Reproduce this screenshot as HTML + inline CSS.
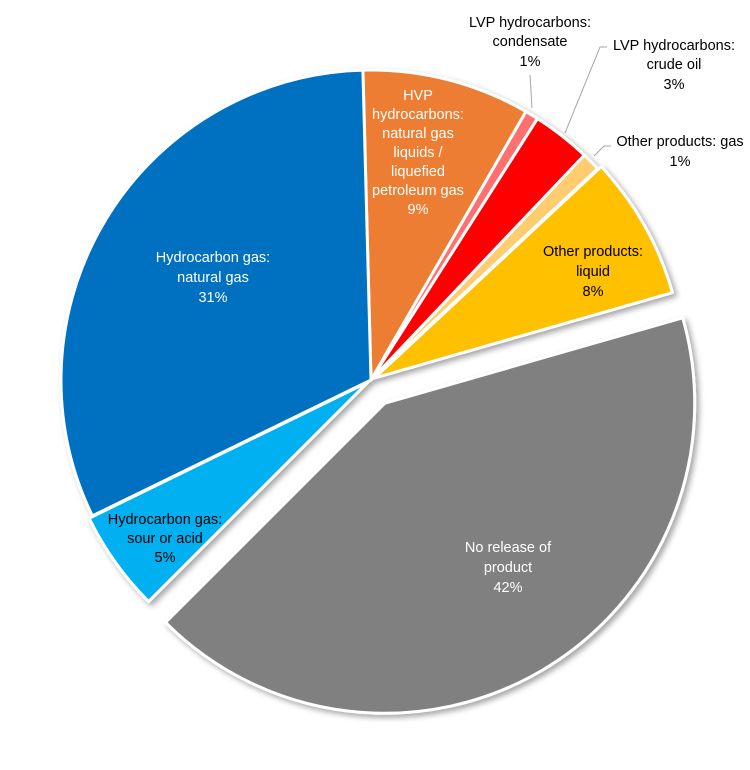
<!DOCTYPE html>
<html><head><meta charset="utf-8"><style>
html,body{margin:0;padding:0;background:#fff;}
svg text{font-family:"Liberation Sans",sans-serif;font-size:14.5px;}
</style></head><body>
<svg id="s" width="750" height="765" viewBox="0 0 750 765" xmlns="http://www.w3.org/2000/svg">
<defs><filter id="sh" x="-10%" y="-10%" width="130%" height="130%"><feDropShadow dx="3" dy="3" stdDeviation="3" flood-color="#000" flood-opacity="0.35"/></filter></defs>
<g id="pie" filter="url(#sh)"></g>
<g fill="none" stroke="#a6a6a6" stroke-width="1">
<polyline points="532,108 530,75"/>
<polyline points="565,133 600,47 607,47"/>
<polyline points="594,156 604,146 611,146"/>
</g>
<g text-anchor="middle">
<text x="213" y="262" fill="#fff">Hydrocarbon gas:</text><text x="213" y="282" fill="#fff">natural gas</text><text x="213" y="302" fill="#fff">31%</text>
<text x="418" y="100" fill="#fff">HVP</text><text x="418" y="119" fill="#fff">hydrocarbons:</text><text x="418" y="138" fill="#fff">natural gas</text><text x="418" y="157" fill="#fff">liquids /</text><text x="418" y="176" fill="#fff">liquefied</text><text x="418" y="195" fill="#fff">petroleum gas</text><text x="418" y="214" fill="#fff">9%</text>
<text x="530" y="27" fill="#000">LVP hydrocarbons:</text><text x="530" y="46" fill="#000">condensate</text><text x="530" y="66" fill="#000">1%</text>
<text x="674" y="50" fill="#000">LVP hydrocarbons:</text><text x="674" y="69" fill="#000">crude oil</text><text x="674" y="89" fill="#000">3%</text>
<text x="680" y="146" fill="#000">Other products: gas</text><text x="680" y="166" fill="#000">1%</text>
<text x="593" y="256" fill="#000">Other products:</text><text x="593" y="276" fill="#000">liquid</text><text x="593" y="296" fill="#000">8%</text>
<text x="508" y="552" fill="#fff">No release of</text><text x="508" y="572" fill="#fff">product</text><text x="508" y="592" fill="#fff">42%</text>
<text x="165" y="524" fill="#000">Hydrocarbon gas:</text><text x="165" y="543" fill="#000">sour or acid</text><text x="165" y="562" fill="#000">5%</text>
</g>
</svg>
<script>
var cx=371,cy=380,r=310,ns="http://www.w3.org/2000/svg";
var sl=[[-1.5,30,"#ED7D31",0],[30,32.5,"#FF7070",0],[32.5,43.5,"#FF0000",0],[43.5,47,"#FFCC70",0],[47,74,"#FFC000",4],[74,225,"#808080",27],[225,244,"#00B0F0",4],[244,358.5,"#0070C0",0]];
var g=document.getElementById("pie");
function pt(x,y,a,rr){a=a*Math.PI/180;return [x+rr*Math.sin(a),y-rr*Math.cos(a)];}
sl.forEach(function(s){var m=(s[0]+s[1])/2,o=pt(cx,cy,m,s[3]),p1=pt(o[0],o[1],s[0],r),p2=pt(o[0],o[1],s[1],r);
var large=(s[1]-s[0])>180?1:0;
var p=document.createElementNS(ns,"path");
p.setAttribute("d","M"+o[0]+","+o[1]+"L"+p1[0]+","+p1[1]+"A"+r+","+r+" 0 "+large+" 1 "+p2[0]+","+p2[1]+"Z");
p.setAttribute("fill",s[2]);p.setAttribute("stroke","#fff");p.setAttribute("stroke-width","3");p.setAttribute("stroke-linejoin","round");
g.appendChild(p);});
</script>
</body></html>
